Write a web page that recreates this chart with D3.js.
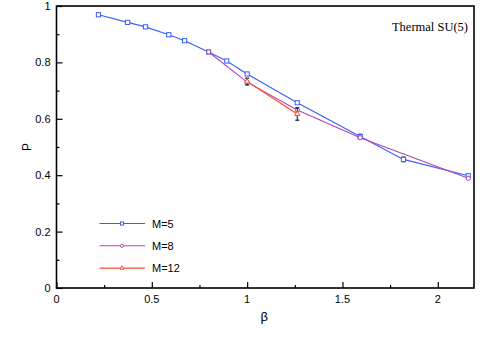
<!DOCTYPE html>
<html>
<head>
<meta charset="utf-8">
<script src="https://cdn.jsdelivr.net/npm/d3@7"></script>
<style>
  body { margin: 0; background: #fff; }
  svg { display: block; font-family: "Liberation Sans", Arial, sans-serif; }
</style>
</head>
<body>
<svg id="chart" width="485" height="346"></svg>
<script>
// Polyakov loop P vs beta, thermal SU(5)
const beta5  = [0.22, 0.373, 0.467, 0.589, 0.672, 0.798, 0.893, 1.0, 1.263, 1.593, 1.82, 2.16];
const p5     = [0.969, 0.942, 0.926, 0.898, 0.877, 0.837, 0.805, 0.759, 0.657, 0.537, 0.456, 0.398];
const err5   = [0, 0, 0, 0, 0, 0, 0, 0, 0, 0.008, 0.008, 0];

const beta8  = [0.798, 1.0, 1.263, 1.593, 2.16];
const p8     = [0.837, 0.73, 0.631, 0.533, 0.389];
const err8   = [0, 0, 0, 0, 0];

const beta12 = [1.0, 1.263];
const p12    = [0.732, 0.617];
const err12  = [0.012, 0.022];

const xTicks = [0, 0.5, 1, 1.5, 2];
const yTicks = [0, 0.2, 0.4, 0.6, 0.8, 1];

const series = [
  { name: 'M=5',  x: beta5,  y: p5,  err: err5,  color: '#3a5cff', marker: 'square' },
  { name: 'M=8',  x: beta8,  y: p8,  err: err8,  color: '#b044b8', marker: 'circle' },
  { name: 'M=12', x: beta12, y: p12, err: err12, color: '#ff4a30', marker: 'triangle' },
];

const svg = d3.select('#chart');
const x = d3.scaleLinear().domain([0, 2.19]).range([56.5, 474]);
const y = d3.scaleLinear().domain([0, 1]).range([288, 6]);

// ── Axes (ticks pointing inward) ───────────────────────────────────────────
const xAxis = svg.append('g')
  .attr('transform', `translate(0,${y(0)})`)
  .call(d3.axisTop(x).tickValues(d3.range(0, 2.19, 0.25)).tickSize(0).tickFormat(''));
xAxis.selectAll('.tick line')
  .attr('y2', (d, i) => i % 2 === 0 ? -6 : -3)
  .attr('stroke', '#000').attr('stroke-width', 1.2);
xAxis.select('.domain').remove();

svg.append('g')
  .selectAll('text')
  .data(xTicks)
  .join('text')
  .attr('x', d => x(d))
  .attr('y', y(0) + 15)
  .attr('text-anchor', 'middle')
  .style('font-size', '11px')
  .text(d => d);

const yAxis = svg.append('g')
  .attr('transform', `translate(${x(0)},0)`)
  .call(d3.axisRight(y).tickValues(d3.range(0, 1.01, 0.1)).tickSize(0).tickFormat(''));
yAxis.selectAll('.tick line')
  .attr('x2', (d, i) => i % 2 === 0 ? 6 : 3)
  .attr('stroke', '#000').attr('stroke-width', 1.2);
yAxis.select('.domain').remove();

svg.append('g')
  .selectAll('text')
  .data(yTicks)
  .join('text')
  .attr('x', x(0) - 6)
  .attr('y', d => y(d) + 4)
  .attr('text-anchor', 'end')
  .style('font-size', '11px')
  .text(d => d);

// frame
svg.append('rect')
  .attr('x', x(0)).attr('y', y(1))
  .attr('width', x(2.19) - x(0)).attr('height', y(0) - y(1))
  .attr('fill', 'none').attr('stroke', '#000').attr('stroke-width', 1.6);

// axis titles
svg.append('text')
  .attr('transform', `translate(31,${y(0.5)}) rotate(-90)`)
  .attr('text-anchor', 'middle')
  .style('font-size', '12px')
  .text('P');

svg.append('text')
  .attr('x', x(1.09)).attr('y', 321)
  .attr('text-anchor', 'middle')
  .style('font-size', '13px')
  .text('β');

svg.append('text')
  .attr('x', 468).attr('y', 31)
  .attr('text-anchor', 'end')
  .style('font-family', '"Liberation Serif", "Times New Roman", serif')
  .style('font-size', '12.5px')
  .text('Thermal SU(5)');

// ── Series ─────────────────────────────────────────────────────────────────
function drawMarker(g, type, cx, cy, color, k = 1) {
  if (type === 'square') {
    const h = 2.1 * k;
    g.append('rect').attr('x', cx - h).attr('y', cy - h).attr('width', 2 * h).attr('height', 2 * h)
      .attr('fill', '#fff').attr('stroke', color).attr('stroke-width', 1);
  } else if (type === 'circle') {
    g.append('circle').attr('cx', cx).attr('cy', cy).attr('r', 2.1 * k)
      .attr('fill', '#fff').attr('stroke', color).attr('stroke-width', 1);
  } else {
    g.append('path').attr('d', d3.symbol(d3.symbolTriangle, 12 * k * k)())
      .attr('transform', `translate(${cx},${cy})`)
      .attr('fill', '#fff').attr('stroke', color).attr('stroke-width', 1);
  }
}

const line = d3.line().x(d => x(d[0])).y(d => y(d[1]));

series.forEach(s => {
  const pts = s.x.map((v, i) => [v, s.y[i], s.err[i]]);
  const g = svg.append('g');
  g.append('path').datum(pts).attr('d', line)
    .attr('fill', 'none').attr('stroke', s.color).attr('stroke-width', 1.1);
  pts.filter(p => p[2] > 0).forEach(p => {
    const cx = x(p[0]);
    g.append('line').attr('x1', cx).attr('x2', cx).attr('y1', y(p[1] - p[2])).attr('y2', y(p[1] + p[2]))
      .attr('stroke', '#111').attr('stroke-width', 1);
    [p[1] - p[2], p[1] + p[2]].forEach(v => {
      g.append('line').attr('x1', cx - 2).attr('x2', cx + 2).attr('y1', y(v)).attr('y2', y(v))
        .attr('stroke', '#111').attr('stroke-width', 1.2);
    });
  });
  pts.forEach(p => drawMarker(g, s.marker, x(p[0]), y(p[1]), s.color));
});

// ── Legend ─────────────────────────────────────────────────────────────────
series.forEach((s, i) => {
  const ly = 223.5 + i * 22.3;
  const g = svg.append('g');
  g.append('line').attr('x1', 99.5).attr('x2', 145).attr('y1', ly).attr('y2', ly)
    .attr('stroke', s.color).attr('stroke-width', 1.1);
  drawMarker(g, s.marker, 122, ly, s.color, 0.75);
  g.append('text').attr('x', 152).attr('y', ly + 4)
    .style('font-size', '11px').text(s.name);
});
</script>
</body>
</html>
